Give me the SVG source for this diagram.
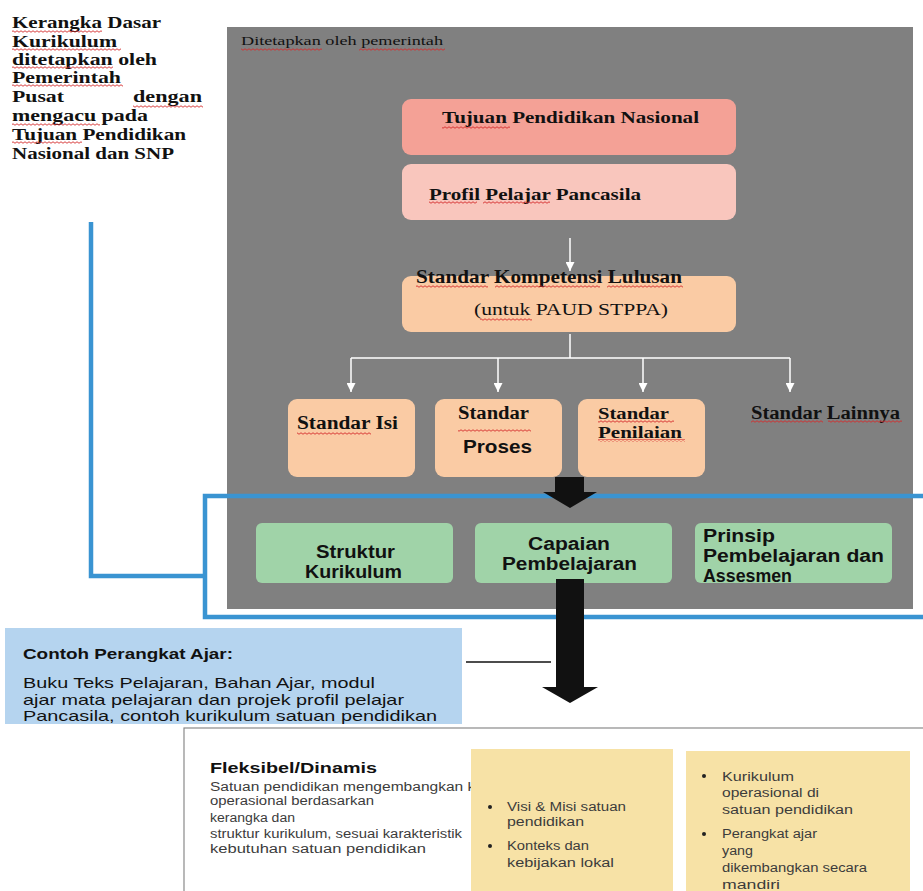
<svg xmlns="http://www.w3.org/2000/svg" width="923" height="891" viewBox="0 0 923 891">
<defs>
<style>
.sb{font-family:"Liberation Serif","Times New Roman",serif;font-weight:bold;fill:#111}
.sr{font-family:"Liberation Serif","Times New Roman",serif;fill:#111}
.ab{font-family:"Liberation Sans",Arial,sans-serif;font-weight:bold;fill:#111}
.ar{font-family:"Liberation Sans",Arial,sans-serif;fill:#111}
.cal{font-family:"Liberation Sans",Arial,sans-serif;font-size:12px;fill:#3c3c3c}
.wl{stroke:#fff;stroke-width:1.5;fill:none}
.blue{stroke:#3A94D2;stroke-width:4.5;fill:none}
.peach{fill:#FACBA4}
.green{fill:#A0D3A8}
.yel{fill:#F7E2A6}
.sq{fill:url(#sq)}
</style>
<pattern id="sq" width="4" height="3" patternUnits="userSpaceOnUse">
<path d="M0 1.5 Q1 0 2 1.5 Q3 3 4 1.5" stroke="#d42a2a" stroke-width="0.9" fill="none"/>
</pattern>
<marker id="wa" viewBox="0 0 10 10" refX="10" refY="5" markerWidth="9" markerHeight="9" markerUnits="userSpaceOnUse" orient="auto">
<path d="M0 0 L10 5 L0 10 z" fill="#fff"/>
</marker>
</defs>

<g id="left-note">
<text class="sb" font-size="16.5" x="12" y="28" textLength="149" lengthAdjust="spacingAndGlyphs">Kerangka Dasar</text>
<text class="sb" font-size="16.5" x="12" y="47" textLength="105" lengthAdjust="spacingAndGlyphs">Kurikulum</text>
<text class="sb" font-size="16.5" x="12" y="65" textLength="145" lengthAdjust="spacingAndGlyphs">ditetapkan oleh</text>
<text class="sb" font-size="16.5" x="12" y="83" textLength="109" lengthAdjust="spacingAndGlyphs">Pemerintah</text>
<text class="sb" font-size="16.5" x="12" y="102" textLength="52" lengthAdjust="spacingAndGlyphs">Pusat</text>
<text class="sb" font-size="16.5" x="133" y="102" textLength="69" lengthAdjust="spacingAndGlyphs">dengan</text>
<text class="sb" font-size="16.5" x="12" y="121" textLength="136" lengthAdjust="spacingAndGlyphs">mengacu pada</text>
<text class="sb" font-size="16.5" x="12" y="140" textLength="174" lengthAdjust="spacingAndGlyphs">Tujuan Pendidikan</text>
<text class="sb" font-size="16.5" x="12" y="159" textLength="162" lengthAdjust="spacingAndGlyphs">Nasional dan SNP</text>
<rect class="sq" x="12" y="30" width="90" height="3"/>
<rect class="sq" x="12" y="48" width="109" height="3"/>
<rect class="sq" x="12" y="66" width="101" height="3"/>
<rect class="sq" x="12" y="84" width="111" height="3"/>
<rect class="sq" x="133" y="105" width="70" height="3"/>
<rect class="sq" x="12" y="123" width="88" height="3"/>
<rect class="sq" x="12" y="141" width="70" height="3"/>
</g>

<g id="panel">
<rect x="227" y="27" width="686" height="582" fill="#808080"/>
<text class="sr" font-size="13" x="241" y="45" textLength="202" lengthAdjust="spacingAndGlyphs">Ditetapkan oleh pemerintah</text>
<rect class="sq" x="241" y="48" width="81" height="3"/>
<rect class="sq" x="359" y="48" width="86" height="3"/>
</g>

<g id="tujuan">
<rect x="402" y="99" width="334" height="56" rx="9" fill="#F4A196"/>
<text class="sb" font-size="17.5" x="442" y="123" textLength="257" lengthAdjust="spacingAndGlyphs">Tujuan Pendidikan Nasional</text>
<rect class="sq" x="442" y="126" width="68" height="3"/>
</g>

<g id="profil">
<rect x="402" y="164" width="334" height="56" rx="9" fill="#F9C6BD"/>
<text class="sb" font-size="17.5" x="429" y="200" textLength="212" lengthAdjust="spacingAndGlyphs">Profil Pelajar Pancasila</text>
<rect class="sq" x="429" y="201" width="48" height="3"/>
<rect class="sq" x="483" y="201" width="67" height="3"/>
</g>

<g id="skl">
<rect class="peach" x="402" y="276" width="334" height="56" rx="9"/>
<text class="sb" font-size="18" x="416" y="283" textLength="266" lengthAdjust="spacingAndGlyphs">Standar Kompetensi Lulusan</text>
<text class="sr" font-size="17" x="474" y="315" textLength="194" lengthAdjust="spacingAndGlyphs">(untuk PAUD STPPA)</text>
<rect class="sq" x="416" y="285" width="72" height="3"/>
<rect class="sq" x="495" y="285" width="105" height="3"/>
<rect class="sq" x="607" y="285" width="76" height="3"/>
<rect class="sq" x="480" y="318" width="52" height="3"/>
</g>

<g id="standar-isi">
<rect class="peach" x="288" y="399" width="127" height="78" rx="9"/>
<text class="sb" font-size="18" x="297" y="429" textLength="101" lengthAdjust="spacingAndGlyphs">Standar Isi</text>
<rect class="sq" x="297" y="432" width="74" height="3"/>
</g>

<g id="standar-proses">
<rect class="peach" x="435" y="399" width="127" height="78" rx="9"/>
<text class="sb" font-size="18" x="458" y="419" textLength="71" lengthAdjust="spacingAndGlyphs">Standar</text>
<text class="ab" font-size="18" x="463" y="453" textLength="69" lengthAdjust="spacingAndGlyphs">Proses</text>
<rect class="sq" x="458" y="429" width="73" height="3"/>
</g>

<g id="standar-penilaian">
<rect class="peach" x="578" y="399" width="127" height="78" rx="9"/>
<text class="sb" font-size="16" x="598" y="419" textLength="71" lengthAdjust="spacingAndGlyphs">Standar</text>
<text class="sb" font-size="16" x="598" y="438" textLength="84" lengthAdjust="spacingAndGlyphs">Penilaian</text>
<rect class="sq" x="598" y="420" width="76" height="3"/>
<rect class="sq" x="598" y="439" width="87" height="3"/>
</g>

<g id="standar-lainnya">
<text class="sb" font-size="18" x="751" y="419" textLength="149" lengthAdjust="spacingAndGlyphs">Standar Lainnya</text>
<rect class="sq" x="751" y="420" width="72" height="3"/>
<rect class="sq" x="828" y="420" width="74" height="3"/>
</g>

<g id="struktur">
<rect class="green" x="256" y="523" width="197" height="60" rx="6"/>
<text class="ab" font-size="18" x="316" y="558" textLength="79" lengthAdjust="spacingAndGlyphs">Struktur</text>
<text class="ab" font-size="18" x="305" y="578" textLength="97" lengthAdjust="spacingAndGlyphs">Kurikulum</text>
</g>

<g id="capaian">
<rect class="green" x="475" y="523" width="197" height="60" rx="6"/>
<text class="ab" font-size="18" x="528" y="550" textLength="82" lengthAdjust="spacingAndGlyphs">Capaian</text>
<text class="ab" font-size="18" x="502" y="570" textLength="135" lengthAdjust="spacingAndGlyphs">Pembelajaran</text>
</g>

<g id="prinsip">
<rect class="green" x="695" y="523" width="197" height="60" rx="6"/>
<text class="ab" font-size="18" x="703" y="542" textLength="72" lengthAdjust="spacingAndGlyphs">Prinsip</text>
<text class="ab" font-size="18" x="703" y="562" textLength="181" lengthAdjust="spacingAndGlyphs">Pembelajaran dan</text>
<text class="ab" font-size="18" x="703" y="582" textLength="89" lengthAdjust="spacingAndGlyphs">Assesmen</text>
</g>

<g id="contoh">
<rect x="5" y="628" width="457" height="96" fill="#B5D4EF"/>
<text class="ab" font-size="14.5" x="23" y="659" textLength="210" lengthAdjust="spacingAndGlyphs">Contoh Perangkat Ajar:</text>
<text class="ar" font-size="15" x="23" y="688" textLength="352" lengthAdjust="spacingAndGlyphs">Buku Teks Pelajaran, Bahan Ajar, modul</text>
<text class="ar" font-size="15" x="23" y="705" textLength="381" lengthAdjust="spacingAndGlyphs">ajar mata pelajaran dan projek profil pelajar</text>
<text class="ar" font-size="15" x="23" y="721" textLength="414" lengthAdjust="spacingAndGlyphs">Pancasila, contoh kurikulum satuan pendidikan</text>
</g>

<g id="fleksibel">
<rect x="184" y="728" width="760" height="180" fill="#fff" stroke="#8a8a8a" stroke-width="1.2"/>
<text class="ab" font-size="15" x="210" y="773" textLength="167" lengthAdjust="spacingAndGlyphs" fill="#222">Fleksibel/Dinamis</text>
<text class="cal" x="210" y="791" textLength="274" lengthAdjust="spacingAndGlyphs">Satuan pendidikan mengembangkan ku</text>
<text class="cal" x="210" y="805" textLength="164" lengthAdjust="spacingAndGlyphs">operasional berdasarkan</text>
<text class="cal" x="210" y="822" textLength="85" lengthAdjust="spacingAndGlyphs">kerangka  dan</text>
<text class="cal" x="210" y="838" textLength="252" lengthAdjust="spacingAndGlyphs">struktur kurikulum, sesuai karakteristik</text>
<text class="cal" x="210" y="853" textLength="216" lengthAdjust="spacingAndGlyphs">kebutuhan  satuan  pendidikan</text>
</g>

<g id="konteks">
<rect class="yel" x="471" y="749" width="202" height="150"/>
<circle cx="490" cy="807" r="2" fill="#222"/>
<text class="cal" x="507" y="811" textLength="119" lengthAdjust="spacingAndGlyphs">Visi &amp; Misi satuan</text>
<text class="cal" x="507" y="826" textLength="77" lengthAdjust="spacingAndGlyphs">pendidikan</text>
<circle cx="490" cy="846" r="2" fill="#222"/>
<text class="cal" x="507" y="850" textLength="82" lengthAdjust="spacingAndGlyphs">Konteks dan</text>
<text class="cal" x="507" y="867" textLength="107" lengthAdjust="spacingAndGlyphs">kebijakan  lokal</text>
</g>

<g id="kurikulum-operasional">
<rect class="yel" x="686" y="751" width="224" height="150"/>
<circle cx="704" cy="776" r="2" fill="#222"/>
<text class="cal" x="722" y="781" textLength="72" lengthAdjust="spacingAndGlyphs">Kurikulum</text>
<text class="cal" x="722" y="797" textLength="97" lengthAdjust="spacingAndGlyphs">operasional di</text>
<text class="cal" x="722" y="814" textLength="131" lengthAdjust="spacingAndGlyphs">satuan  pendidikan</text>
<circle cx="704" cy="834" r="2" fill="#222"/>
<text class="cal" x="722" y="838" textLength="95" lengthAdjust="spacingAndGlyphs">Perangkat ajar</text>
<text class="cal" x="722" y="855" textLength="31" lengthAdjust="spacingAndGlyphs">yang</text>
<text class="cal" x="722" y="872" textLength="145" lengthAdjust="spacingAndGlyphs">dikembangkan secara</text>
<text class="cal" x="722" y="889" textLength="58" lengthAdjust="spacingAndGlyphs">mandiri</text>
</g>

<g id="connectors">
<path class="wl" d="M570 238 V271" marker-end="url(#wa)"/>
<path class="wl" d="M570 334 V358 M351 358 H790"/>
<path class="wl" d="M351 358 V392" marker-end="url(#wa)"/>
<path class="wl" d="M498 358 V392" marker-end="url(#wa)"/>
<path class="wl" d="M643 358 V392" marker-end="url(#wa)"/>
<path class="wl" d="M790 358 V392" marker-end="url(#wa)"/>
<path class="blue" d="M91 222 V576 H205"/>
<path class="blue" d="M930 496 H205 V617 H930"/>
<polygon points="555,477 584,477 584,492 597,492 570,508 543,492 555,492" fill="#111"/>
<polygon points="556,579 584,579 584,687 598,687 570,703 542,687 556,687" fill="#111"/>
<line x1="466" y1="662" x2="551" y2="662" stroke="#111" stroke-width="1.3"/>
</g>
</svg>
